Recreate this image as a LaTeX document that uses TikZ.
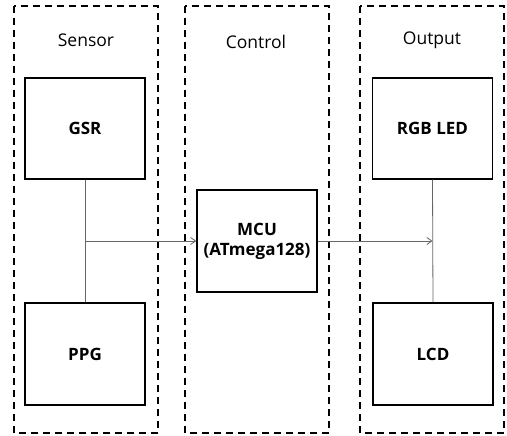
\documentclass[tikz,border=0pt]{standalone}
\usepackage{fontspec}
\setmainfont{Open Sans}
\usetikzlibrary{arrows.meta}
\begin{document}
\begin{tikzpicture}[x=1pt,y=-1pt,
  group/.style={draw, line width=1.9pt, dash pattern=on 7pt off 5pt},
  blockbox/.style={draw, line width=1.5pt, fill=white, inner sep=0pt, font=\fontsize{17}{20}\selectfont\bfseries, align=center},
  title/.style={font=\fontsize{17.5}{20}\selectfont, inner sep=0pt},
  wire/.style={draw=gray!80!black, line width=0.8pt},
  arr/.style={wire, -{Straight Barb[length=5pt,width=7pt]}}]
\useasboundingbox (0,0) rectangle (507,436);
\draw[group] (14,6) rectangle (158,433);
\draw[group] (185,6) rectangle (329,433);
\draw[group] (360,6) rectangle (504,433);
\node[title] (ts) at (86,40) {Sensor};
\node[title] (tc) at (256,42) {Control};
\node[title] (to) at (432,40) {Output};
\node[blockbox, minimum width=120pt, minimum height=101pt] (gsr) at (85,128.5) {GSR};
\node[blockbox, minimum width=120pt, minimum height=102pt] (ppg) at (85,354) {PPG};
\node[blockbox, minimum width=120pt, minimum height=102pt] (mcu) at (257,241) {MCU\\(ATmega128)};
\node[blockbox, minimum width=120pt, minimum height=101pt] (rgb) at (432.5,128.5) {RGB LED};
\node[blockbox, minimum width=120pt, minimum height=102pt] (lcd) at (433,354) {LCD};
\coordinate (j1) at (gsr.south |- mcu.west);
\coordinate (j2) at (rgb.south |- mcu.east);
\draw[wire] (gsr.south) -- (ppg.north);
\draw[wire] (rgb.south) -- (lcd.north);
\draw[arr] (j1) -- (mcu.west);
\draw[arr] (mcu.east) -- (j2);
\end{tikzpicture}
\end{document}
